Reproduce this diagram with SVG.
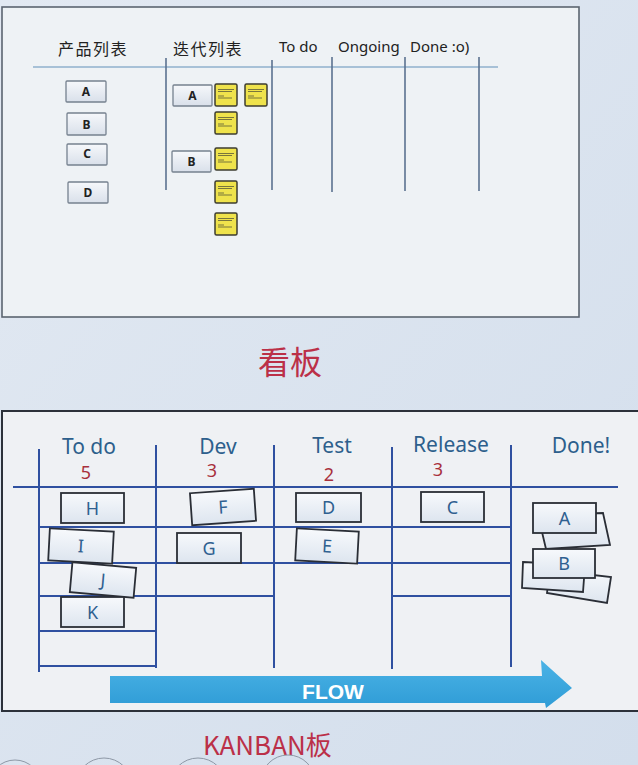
<svg xmlns="http://www.w3.org/2000/svg" width="638" height="765" viewBox="0 0 638 765">
<defs>
<linearGradient id="bg" x1="0" y1="0" x2="1" y2="1"><stop offset="0" stop-color="#e2e9f2"/><stop offset="1" stop-color="#d3deec"/></linearGradient>
<linearGradient id="box" x1="0" y1="0" x2="0" y2="1"><stop offset="0" stop-color="#f6f8fb"/><stop offset="1" stop-color="#d9e0ea"/></linearGradient>
<linearGradient id="card" x1="0" y1="0" x2="0" y2="1"><stop offset="0" stop-color="#f7f9fc"/><stop offset="1" stop-color="#dde5ef"/></linearGradient>
<linearGradient id="flow" x1="0" y1="0" x2="0" y2="1"><stop offset="0" stop-color="#4bb3e6"/><stop offset="1" stop-color="#2f9cd6"/></linearGradient>
<g id="sticky">
<rect x="0" y="0" width="22" height="22" rx="1.5" fill="#efe34c" stroke="#3d3d30" stroke-width="1.5"/>
<path d="M3 5.5 H19 M3 7.5 H17 M3 12 H9 M3 14 h14" stroke="#6a6a3a" stroke-width="0.9" fill="none"/>
</g>
</defs>
<style>
.cjk{font-family:"Noto Sans CJK SC","Noto Sans",sans-serif}
.hdr{font-family:"Noto Sans","DejaVu Sans",sans-serif;font-size:15px;fill:#222}
.pbox{fill:url(#box);stroke:#76818f;stroke-width:1.3}
.plbl{font-family:"Noto Sans","DejaVu Sans",sans-serif;font-size:12px;font-weight:bold;fill:#222;text-anchor:middle}
.tline{stroke:#5b7190;stroke-width:1.6}
.bline{stroke:#2f50a0;stroke-width:2;fill:none}
.col{font-family:"Noto Sans","DejaVu Sans",sans-serif;font-size:21px;fill:#2d5f8c;text-anchor:middle}
.num{font-family:"Noto Sans","DejaVu Sans",sans-serif;font-size:18px;fill:#a8303c;text-anchor:middle}
.card{fill:url(#card);stroke:#2a2e36;stroke-width:1.8}
.clbl{font-family:"Noto Sans","DejaVu Sans",sans-serif;font-size:18px;fill:#2f6090;text-anchor:middle}
.title{fill:#bb3048}
</style>
<rect x="0" y="0" width="638" height="765" fill="url(#bg)"/>

<!-- Top board -->
<g id="board-top">
<rect x="2" y="7" width="577" height="310" fill="#eef2f5" stroke="#5b6470" stroke-width="1.6"/>
<text class="cjk" x="58" y="55" font-size="16" letter-spacing="1.5" fill="#222">产品列表</text>
<text class="cjk" x="173" y="55" font-size="16" letter-spacing="1.5" fill="#222">迭代列表</text>
<text class="hdr" x="279" y="52" font-size="16">To do</text>
<text class="hdr" x="338" y="52">Ongoing</text>
<text class="hdr" x="410" y="52">Done :o)</text>
<line x1="33" y1="67" x2="498" y2="67" stroke="#8fb0cc" stroke-width="1.5"/>
<line class="tline" x1="166" y1="58" x2="166" y2="190"/>
<line class="tline" x1="272" y1="60" x2="272" y2="190"/>
<line class="tline" x1="332" y1="57" x2="332" y2="192"/>
<line class="tline" x1="405" y1="57" x2="405" y2="191"/>
<line class="tline" x1="479" y1="57" x2="479" y2="191"/>
</g>
<g id="prod-A"><rect class="pbox" x="66" y="81" width="40" height="21" rx="1"/><text class="plbl" x="86" y="96">A</text></g>
<g id="prod-B"><rect class="pbox" x="67" y="113" width="39" height="22" rx="1"/><text class="plbl" x="86.5" y="128.5">B</text></g>
<g id="prod-C"><rect class="pbox" x="67" y="144" width="40" height="21" rx="1"/><text class="plbl" x="87" y="158">C</text></g>
<g id="prod-D"><rect class="pbox" x="68" y="182" width="40" height="21" rx="1"/><text class="plbl" x="88" y="197">D</text></g>
<g id="iter-A"><rect class="pbox" x="173" y="85" width="39" height="21" rx="1"/><text class="plbl" x="192.5" y="100">A</text></g>
<g id="iter-B"><rect class="pbox" x="172" y="151" width="39" height="21" rx="1"/><text class="plbl" x="191.5" y="166">B</text></g>
<g id="stickies">
<use href="#sticky" x="215" y="84"/>
<use href="#sticky" x="245" y="84"/>
<use href="#sticky" x="215" y="112"/>
<use href="#sticky" x="215" y="148"/>
<use href="#sticky" x="215" y="181"/>
<use href="#sticky" x="215" y="213"/>
</g>
<text class="cjk title" x="290" y="374" font-size="32" text-anchor="middle">看板</text>

<!-- Bottom board -->
<g id="board-kanban">
<rect x="2" y="411" width="645" height="300" fill="#eff1f4" stroke="#2c313a" stroke-width="2"/>
<line class="bline" x1="13" y1="487" x2="618" y2="487"/>
<line class="bline" x1="39" y1="449" x2="39" y2="672"/>
<line class="bline" x1="156" y1="445" x2="156" y2="668"/>
<line class="bline" x1="274" y1="445" x2="274" y2="668"/>
<line class="bline" x1="392" y1="447" x2="392" y2="669"/>
<line class="bline" x1="511" y1="445" x2="511" y2="667"/>
<path class="bline" stroke-width="1.8" d="M39 527 H511 M39 563 H511 M39 596 H274 M392 596 H511 M39 631 H156 M39 666 H156"/>
<text class="col" x="89" y="454">To do</text>
<text class="col" x="218" y="454">Dev</text>
<text class="col" x="332" y="453">Test</text>
<text class="col" x="451" y="452">Release</text>
<text class="col" x="581" y="453">Done!</text>
<text class="num" x="86" y="479">5</text>
<text class="num" x="212" y="477">3</text>
<text class="num" x="329" y="481">2</text>
<text class="num" x="438" y="476">3</text>
</g>
<g id="card-H"><rect class="card" x="61" y="493" width="63" height="30"/><text class="clbl" x="92.5" y="514.5">H</text></g>
<g id="card-F" transform="translate(223 507) rotate(-4)"><rect class="card" x="-32" y="-16" width="64" height="32"/><text class="clbl" x="0" y="6.5">F</text></g>
<g id="card-I" transform="translate(81 546) rotate(3)"><rect class="card" x="-32" y="-16" width="64" height="32"/><text class="clbl" x="0" y="6.5">I</text></g>
<g id="card-G"><rect class="card" x="177" y="533" width="64" height="30"/><text class="clbl" x="209" y="554.5">G</text></g>
<g id="card-J" transform="translate(103 580) rotate(5)"><rect class="card" x="-32" y="-15" width="64" height="30"/><text class="clbl" x="0" y="6.5">J</text></g>
<g id="card-K"><rect class="card" x="61" y="597" width="63" height="30"/><text class="clbl" x="92.5" y="618.5">K</text></g>
<g id="card-D"><rect class="card" x="296" y="493" width="65" height="29"/><text class="clbl" x="328.5" y="514">D</text></g>
<g id="card-E" transform="translate(327 546) rotate(3)"><rect class="card" x="-31" y="-16" width="62" height="32"/><text class="clbl" x="0" y="6.5">E</text></g>
<g id="card-C"><rect class="card" x="421" y="492" width="63" height="30"/><text class="clbl" x="452.5" y="513.5">C</text></g>
<g id="done-stack">
<polygon class="card" points="538,515 603,513 610,545 546,549"/>
<polygon class="card" points="550,570 611,577 607,603 547,593"/>
<polygon class="card" points="523,562 585,565 583,592 522,588"/>
</g>
<g id="card-A"><rect class="card" x="533" y="503" width="63" height="30"/><text class="clbl" x="564.5" y="524.5">A</text></g>
<g id="card-B"><rect class="card" x="533" y="549" width="62" height="29"/><text class="clbl" x="564" y="570">B</text></g>

<g id="connectors">
<polygon points="110,676 542,676 541,660 572,688 546,708 545,703 110,703" fill="url(#flow)"/>
<text x="333" y="699" font-family="Liberation Sans, Arial, sans-serif" font-weight="bold" font-size="21" fill="#ffffff" text-anchor="middle">FLOW</text>
</g>

<text class="cjk title" x="203" y="755" font-size="26">KANBAN板</text>
<g id="deco" fill="none" stroke="#8e98a6" stroke-width="1">
<circle cx="15" cy="786" r="26"/>
<circle cx="104" cy="786" r="28"/>
<circle cx="198" cy="786" r="28"/>
<circle cx="288" cy="782" r="27"/>
</g>
</svg>
